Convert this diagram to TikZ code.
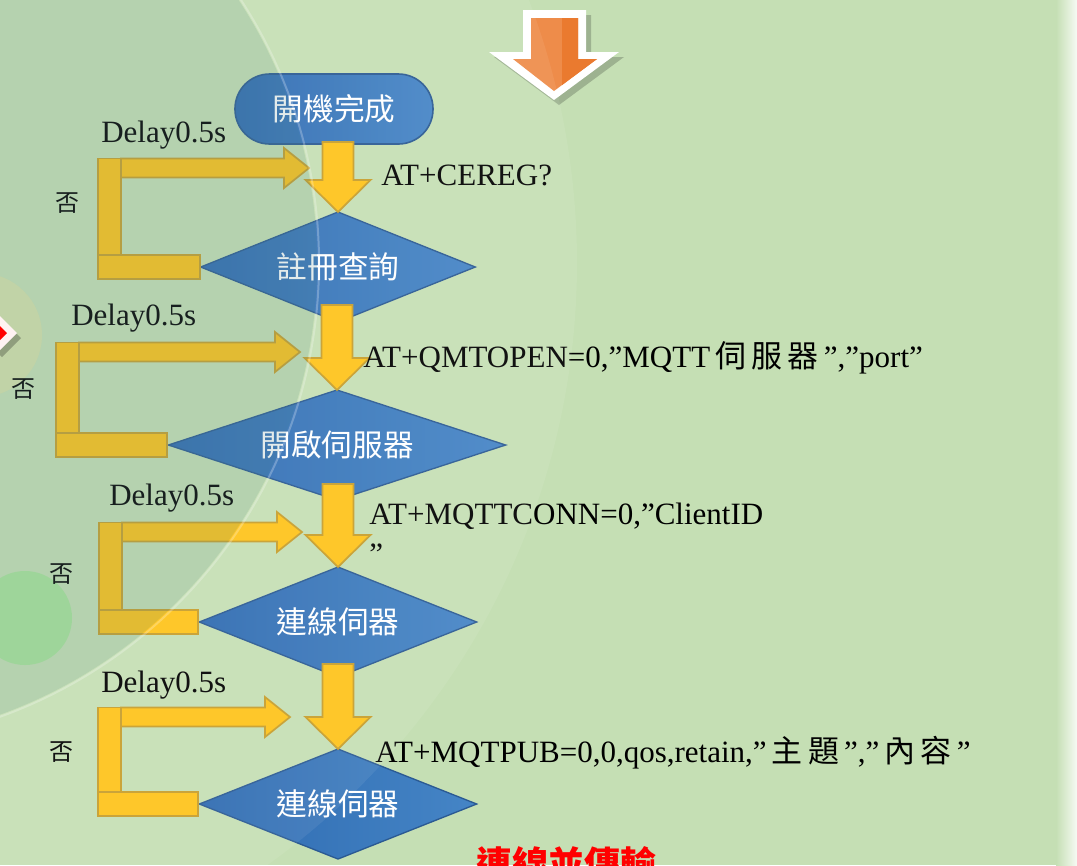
\documentclass[tikz,border=0pt]{standalone}
\usepackage{fontspec}
\setmainfont{Liberation Serif}
\newfontfamily\cjk{Noto Sans CJK TC}
\usetikzlibrary{shapes.geometric,calc}

\definecolor{bggreen}{HTML}{C5DFB4}
\definecolor{wmgreen}{HTML}{759E9B}
\definecolor{boxblue}{HTML}{2E6AB0}
\definecolor{boxblueL}{HTML}{4585C6}
\definecolor{boxline}{HTML}{2B5A93}
\definecolor{yfill}{HTML}{FEC31A}
\definecolor{yline}{HTML}{C69E2C}
\definecolor{orangeL}{HTML}{EE8C4A}
\definecolor{orangeD}{HTML}{EA7A2F}

\newcommand\txtsize{\fontsize{23.25}{29.5}\selectfont}

\tikzset{
  startbox/.style={rectangle, rounded corners=26pt, draw=boxline, line width=1.2pt,
    left color=boxblue, right color=boxblueL, minimum width=148.5pt,
    minimum height=52.5pt, text=white, font=\cjk\fontsize{23}{26}\selectfont, outer sep=0pt},
  decision/.style={diamond, aspect=2.5, draw=boxline, line width=1pt, left color=boxblue,
    right color=boxblueL, minimum height=82.5pt, inner sep=0pt, outer sep=0pt,
    text=white, font=\cjk\fontsize{23}{26}\selectfont},
  cmd/.style={anchor=base west, inner sep=0pt, font=\txtsize},
  nolabel/.style={inner sep=0pt, font=\cjk\fontsize{18}{20}\selectfont},
  barrow/.style={fill=yfill, draw=yline, line width=1.3pt, line join=miter},
}

% yellow block arrow going down from one node into the next
\newcommand\blockdown[3][15]{%
  \draw[barrow] ($(#2.south -| #3.north)+(-15.5,-#1)$) -- ($(#3.north)+(-15.5,-32)$)
    -- ($(#3.north)+(-32.5,-32)$) -- (#3.north) -- ($(#3.north)+(32.5,-32)$)
    -- ($(#3.north)+(15.5,-32)$) -- ($(#2.south -| #3.north)+(15.5,-#1)$) -- cycle;}

% the "no" branch: left out of the diamond, up, and back right to the tip
\newcommand\noloop[3]{%
  \coordinate (nl) at (#3,0);
  \draw[barrow] ($(nl |- #2)+(0,-9.5)$) rectangle ($(nl |- #1.west)+(23,-12)$);
  \draw[barrow] ($(nl |- #1.west)+(0,-12)$) rectangle ($(#1.west)+(-1,12)$);
  \draw[barrow] ($(nl |- #2)+(23,-9.5)$) -- ($(#2)+(-25,-9.5)$) -- ($(#2)+(-25,-20)$)
    -- (#2) -- ($(#2)+(-25,20)$) -- ($(#2)+(-25,9.5)$) -- ($(nl |- #2)+(23,9.5)$) -- cycle;}

\begin{document}
\begin{tikzpicture}[x=0.75pt,y=-0.75pt]
\useasboundingbox (0,0) rectangle (1077,865);
\clip (0,0) rectangle (1077,865);

% slide background
\fill[bggreen] (0,0) rectangle (1077,865);
\shade[left color=bggreen, right color=white!85!bggreen] (1056,0) rectangle (1077,865);
\fill[color=white!40!yellow!30!bggreen, opacity=.7] (-20,335) circle (62);
\fill[color=green!40!bggreen, opacity=.35] (25,618) circle (47);

% orange arrow on top
\fill[black, opacity=.2] (528,15) -- (591,15) -- (591,57) -- (624,57) -- (559,105) -- (494,57) -- (528,57) -- cycle;
\fill[white] (523,10) -- (586,10) -- (586,52) -- (619,52) -- (554,100) -- (489,52) -- (523,52) -- cycle;
\begin{scope}
  \clip (531,18) -- (578,18) -- (578,59) -- (597,59) -- (554,91) -- (513,59) -- (531,59) -- cycle;
  \fill[orangeL] (500,10) rectangle (600,100);
  \fill[orangeD] (562,10) rectangle (600,100);
\end{scope}

% flow
\node[startbox] (start) at (334,109) {開機完成};
\node[decision, minimum width=206pt] (q1) at (338,267) {註冊查詢};
\node[decision, minimum width=253pt] (q2) at (337,445) {開啟伺服器};
\node[decision, minimum width=208pt] (q3) at (338,622) {連線伺器};
\node[decision, minimum width=208pt] (q4) at (338,804) {連線伺器};

\blockdown[2]{start}{q1}
\blockdown[17]{q1}{q2}
\blockdown[16]{q2}{q3}
\blockdown[13]{q3}{q4}

\coordinate (t1) at (309,168);
\coordinate (t2) at (300,352);
\coordinate (t3) at (302,532);
\coordinate (t4) at (290,717);
\noloop{q1}{t1}{98}
\noloop{q2}{t2}{56}
\noloop{q3}{t3}{99}
\noloop{q4}{t4}{98}

% commands
\node[cmd] (at1) at (381,185) {AT+CEREG?};
\node[cmd] (at2) at (363,367) {AT+QMTOPEN=0,”MQTT{\cjk\,伺\,服\,器\,}”,”port”};
\node[cmd, anchor=north west, align=left] (at3) at (369,503) {AT+MQTTCONN=0,”ClientID\\”};
\node[cmd] (at4) at (375,762) {AT+MQTPUB=0,0,qos,retain,”{\cjk\,主\,題\,}”,”{\cjk\,內\,容\,}”};

\node[cmd] (delay1) at (101,142) {Delay0.5s};
\node[cmd] (delay2) at (71,325) {Delay0.5s};
\node[cmd] (delay3) at (109,505) {Delay0.5s};
\node[cmd] (delay4) at (101,692) {Delay0.5s};

\node[nolabel] (no1) at (67,203) {否};
\node[nolabel] (no2) at (24,389) {否};
\node[nolabel] (no3) at (61,574) {否};
\node[nolabel] (no4) at (61,752) {否};

\node[anchor=north, inner sep=0pt, text=red, font=\cjk\bfseries\fontsize{27}{30}\selectfont]
  (title) at (566,846) {連線並傳輸};

% watermark disc and ring
\fill[wmgreen, opacity=.2] (-163,263) circle (480);
\fill[white, opacity=.07, even odd rule] (-163,263) circle (480) (-163,263) circle (740);
\draw[white, opacity=.25, line width=1.5pt] (-163,263) circle (482);

% red badge at the left edge
\fill[black, opacity=.25] (2,319) -- (21,338) -- (2,357) -- (-17,338) -- cycle;
\fill[white!95!red] (-2,314) -- (17,333) -- (-2,352) -- (-21,333) -- cycle;
\fill[red] (-2,324) -- (7,333) -- (-2,342) -- (-11,333) -- cycle;
\end{tikzpicture}
\end{document}
